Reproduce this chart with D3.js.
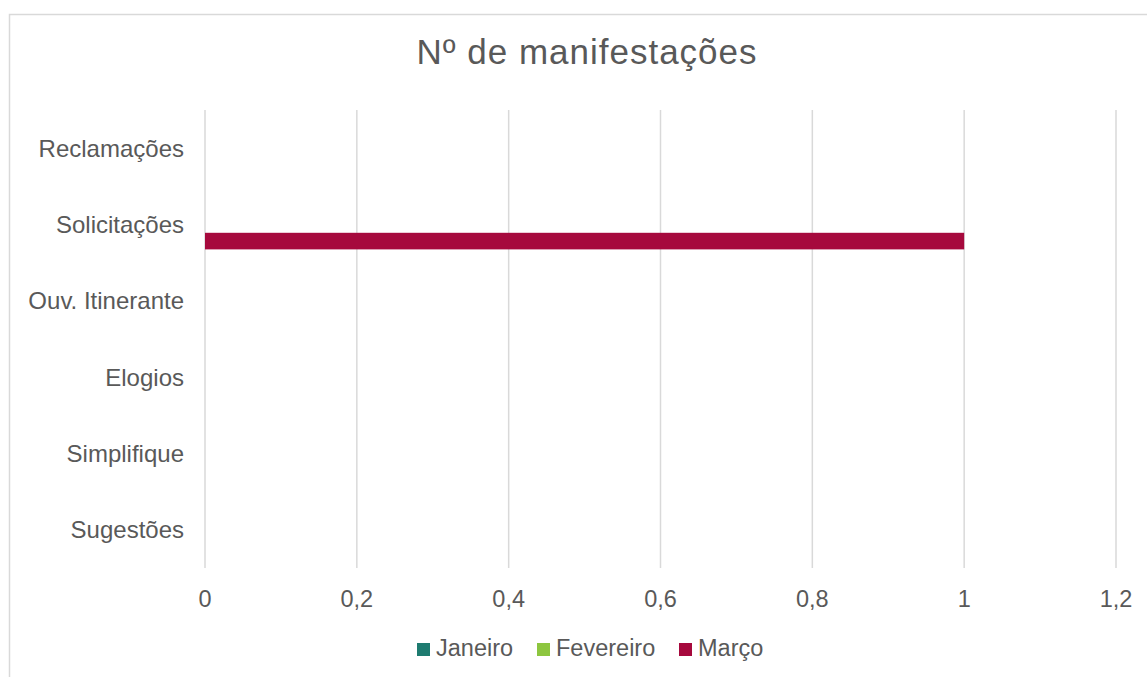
<!DOCTYPE html>
<meta charset="utf-8">
<script src="https://d3js.org/d3.v7.min.js"></script>
<style>
    body { margin: 0; background: #fff; }
    text { font-family: Arial, "Liberation Sans", sans-serif; fill: #595959; }
</style>
<div id="vis"></div>
<script>
    // data
    var categories = ["Reclamações", "Solicitações", "Ouv. Itinerante", "Elogios", "Simplifique", "Sugestões"];
    var series = ["Janeiro", "Fevereiro", "Março"];
    var janeiro = [0, 0, 0, 0, 0, 0];
    var fevereiro = [0, 0, 0, 0, 0, 0];
    var marco = [0, 1, 0, 0, 0, 0];
    var xTicks = [0, 0.2, 0.4, 0.6, 0.8, 1, 1.2];
    var colors = ["#1E7B70", "#8DC63F", "#A6093D"];

    var values = [janeiro, fevereiro, marco];

    // dimensions&&margins
    var W = 1147, H = 677;
    var mgn = { top: 110, rgt: 31, btm: 109, lft: 205 },
        wid = W - mgn.lft - mgn.rgt,
        hgt = H - mgn.top - mgn.btm;

    var svg = d3.select("#vis")
        .append("svg")
        .attr("width", W)
        .attr("height", H);

    // chart frame
    svg.append("rect")
        .attr("x", 9.5)
        .attr("y", 14.5)
        .attr("width", 1200)
        .attr("height", 700)
        .attr("fill", "#fff")
        .attr("stroke", "#d9d9d9")
        .attr("stroke-width", 1.5);

    var g = svg.append("g")
        .attr("transform", "translate(" + mgn.lft + "," + mgn.top + ")");

    // scales
    var x = d3.scaleLinear()
        .domain([0, 1.2])
        .range([0, wid]);

    var y0 = d3.scaleBand()
        .domain(categories)
        .range([0, hgt]);

    var y1 = d3.scaleBand()
        .domain(series)
        .range([0, y0.bandwidth()])
        .paddingOuter(0.8);

    // gridlines
    g.append("g")
        .selectAll("line")
        .data(xTicks)
        .enter()
        .append("line")
        .attr("x1", function (d) { return x(d); })
        .attr("x2", function (d) { return x(d); })
        .attr("y1", 0)
        .attr("y2", hgt)
        .attr("stroke", "#d9d9d9")
        .attr("stroke-width", 1.5);

    // x tick labels
    g.append("g")
        .selectAll("text")
        .data(xTicks)
        .enter()
        .append("text")
        .attr("x", function (d) { return x(d); })
        .attr("y", hgt + 39)
        .attr("text-anchor", "middle")
        .style("font-size", "23.5px")
        .text(function (d) { return String(d).replace(".", ","); });

    // category labels
    g.append("g")
        .selectAll("text")
        .data(categories)
        .enter()
        .append("text")
        .attr("x", -21)
        .attr("y", function (d) { return y0(d) + y0.bandwidth() / 2; })
        .attr("dy", "0.35em")
        .attr("text-anchor", "end")
        .style("font-size", "24px")
        .text(function (d) { return d; });

    // bars
    var rows = [];
    series.forEach(function (s, i) {
        categories.forEach(function (c, j) {
            rows.push({ series: s, cat: c, val: values[i][j], col: colors[i] });
        });
    });

    g.append("g")
        .selectAll("rect")
        .data(rows)
        .enter()
        .append("rect")
        .attr("x", x(0))
        .attr("y", function (d) { return y0(d.cat) + y1(d.series); })
        .attr("width", function (d) { return x(d.val) - x(0); })
        .attr("height", y1.bandwidth())
        .attr("fill", function (d) { return d.col; });

    // title
    svg.append("text")
        .attr("x", 587)
        .attr("y", 64)
        .attr("text-anchor", "middle")
        .style("font-size", "35px")
        .style("letter-spacing", "1px")
        .text("Nº de manifestações");

    // legend
    var legX = [417, 537, 679];
    var leg = svg.append("g")
        .selectAll("g")
        .data(series)
        .enter()
        .append("g")
        .attr("transform", function (d, i) { return "translate(" + legX[i] + ",643)"; });
    leg.append("rect")
        .attr("width", 13)
        .attr("height", 13)
        .attr("fill", function (d, i) { return colors[i]; });
    leg.append("text")
        .attr("x", 19)
        .attr("y", 13)
        .style("font-size", "23.5px")
        .text(function (d) { return d; });
</script>
